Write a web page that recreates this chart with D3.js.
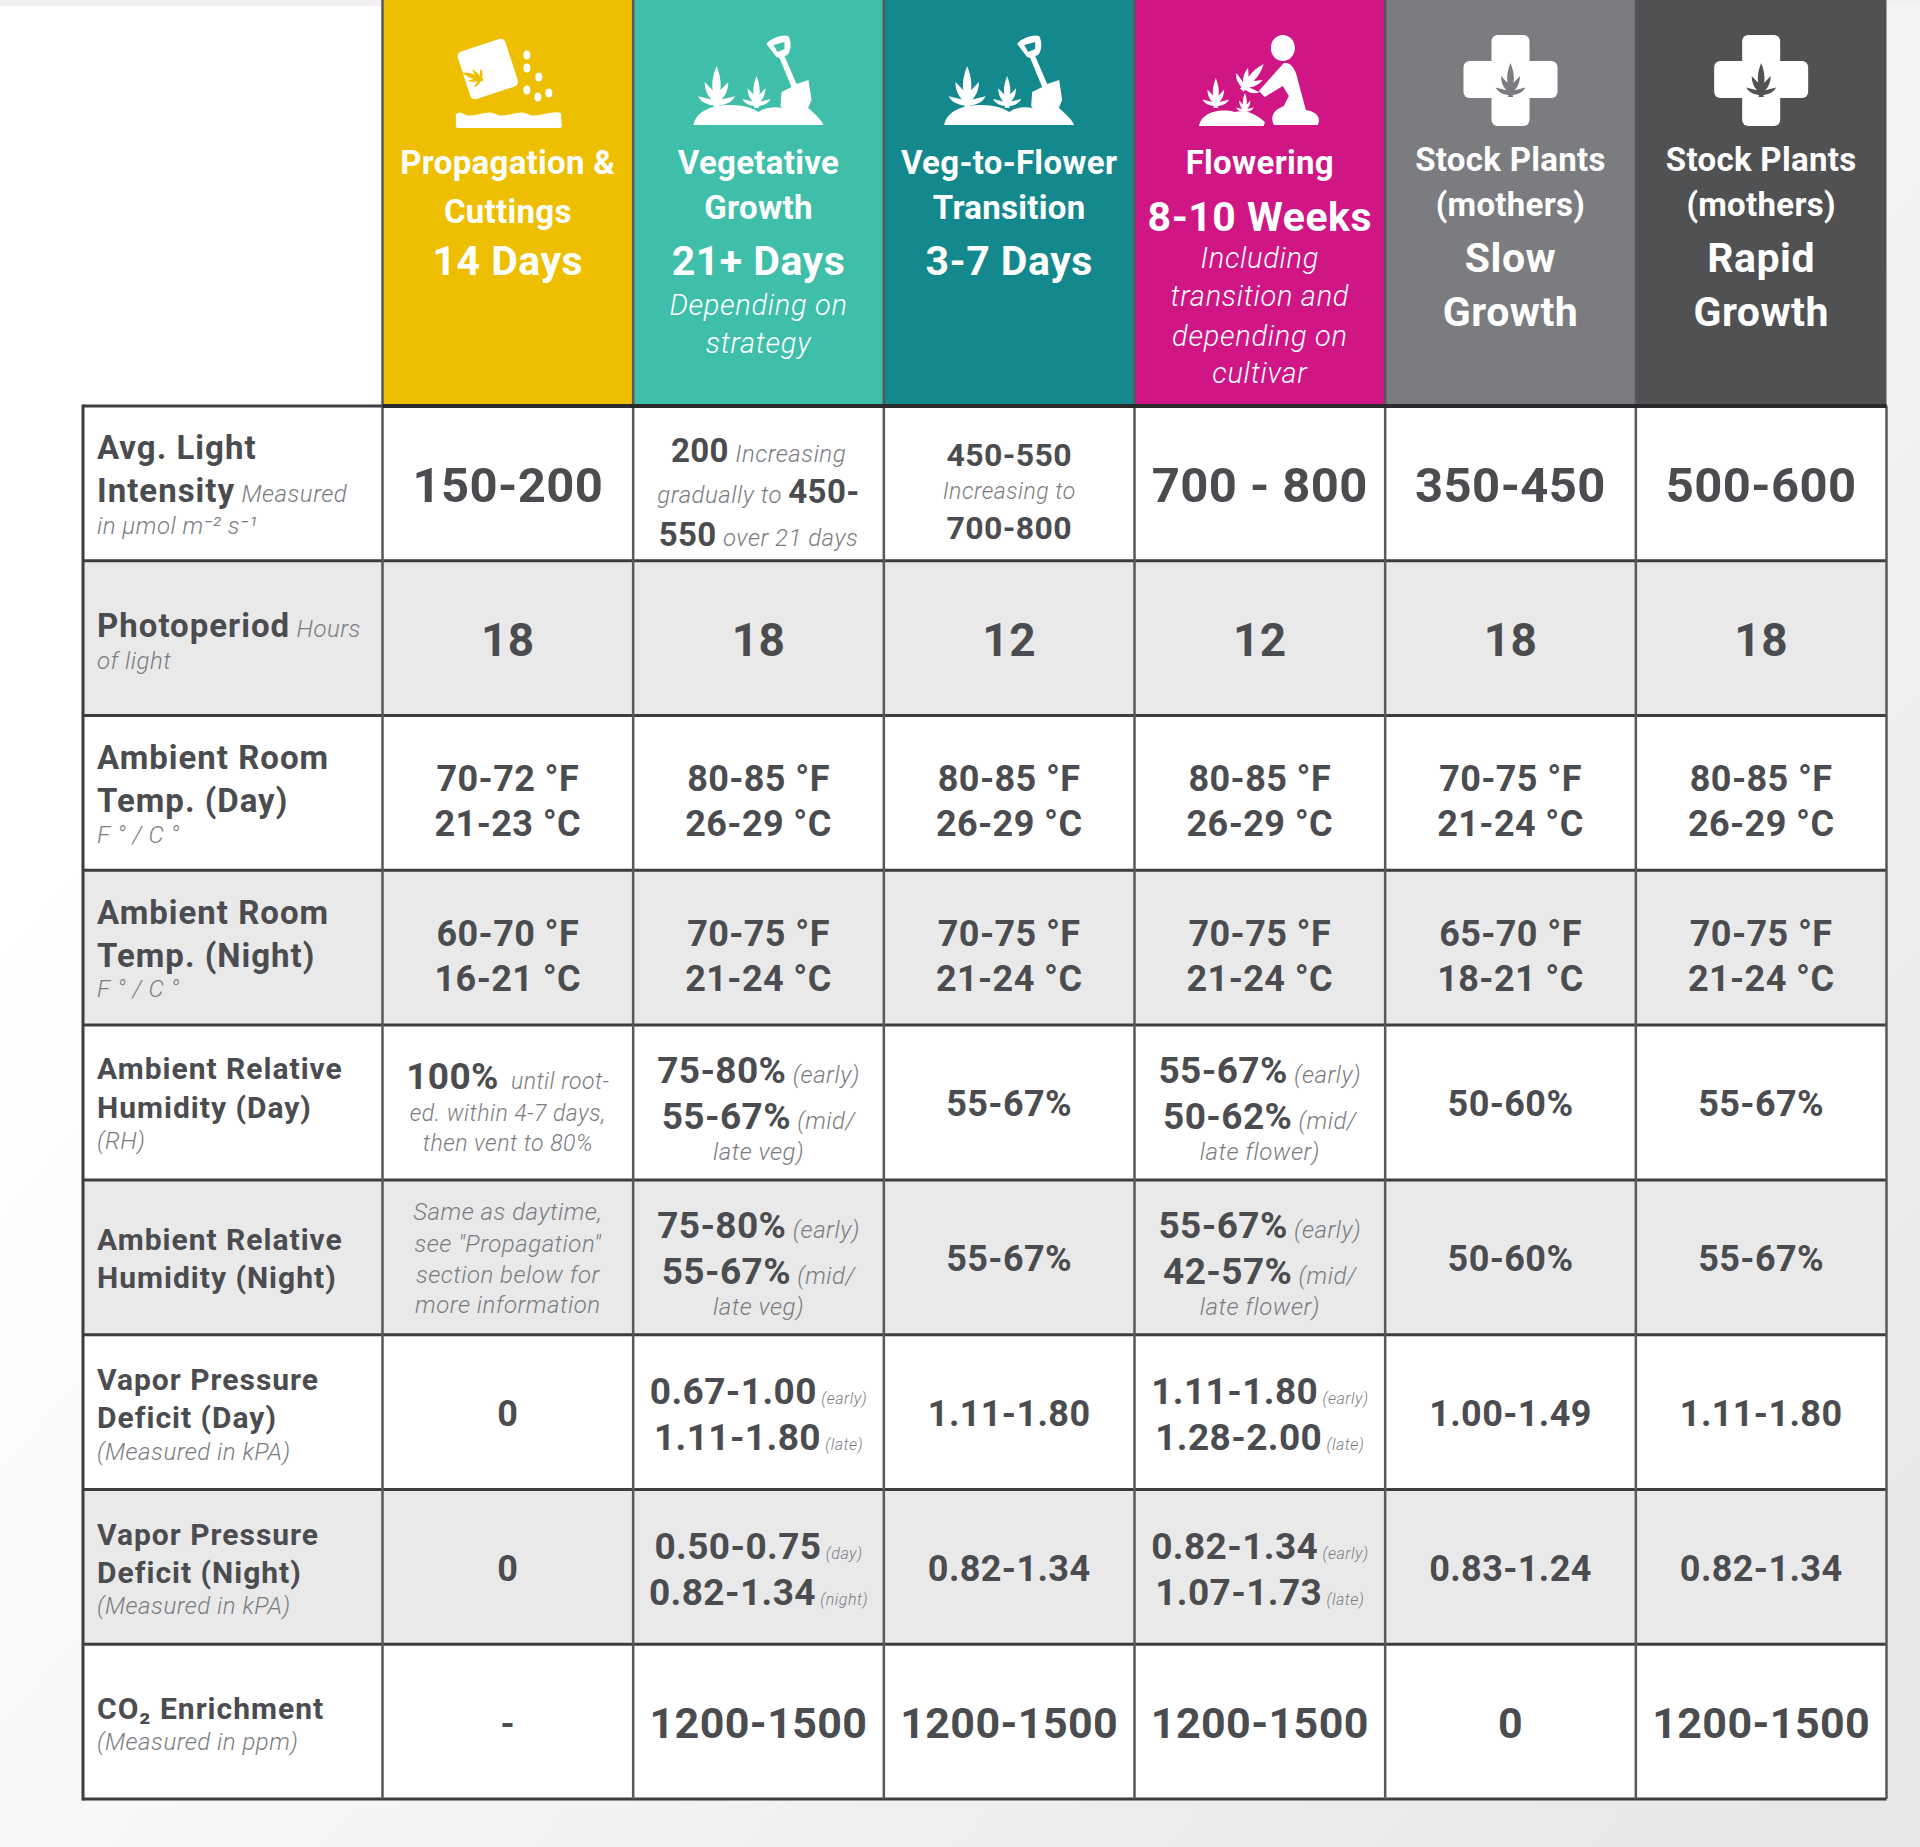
<!DOCTYPE html>
<html>
<head>
<meta charset="utf-8">
<script src="https://cdn.jsdelivr.net/npm/d3@7"></script>
<style>
  html, body { margin: 0; padding: 0; background: #f1f1f3; }
  svg { display: block; font-family: Roboto, sans-serif; }
</style>
</head>
<body>
<div class="chart"></div>
<script>
// "|" switches between bold value text and thin italic note text, starting on bold
const stages = ['Propagation', 'Vegetative', 'Transition', 'Flowering', 'StockSlow', 'StockRapid'];
const stageColors = ['#eebf00', '#3fbfa9', '#14898d', '#d01685', '#7b7c7f', '#4f5153'];

const headTitles = [
  ['Propagation &', 'Cuttings'],
  ['Vegetative', 'Growth'],
  ['Veg-to-Flower', 'Transition'],
  ['Flowering'],
  ['Stock Plants', '(mothers)'],
  ['Stock Plants', '(mothers)']
];
const headDurations = [['14 Days'], ['21+ Days'], ['3-7 Days'], ['8-10 Weeks'], ['Slow', 'Growth'], ['Rapid', 'Growth']];
const headNotes = [[], ['Depending on', 'strategy'], [], ['Including', 'transition and', 'depending on', 'cultivar'], [], []];

const rowNames = ['light', 'photo', 'tempDay', 'tempNight', 'rhDay', 'rhNight', 'vpdDay', 'vpdNight', 'co2'];
const rowLabels = [
  ['Avg. Light', 'Intensity| Measured', '|in μmol m⁻² s⁻¹'],
  ['Photoperiod| Hours', '|of light'],
  ['Ambient Room', 'Temp. (Day)', '|F ° / C °'],
  ['Ambient Room', 'Temp. (Night)', '|F ° / C °'],
  ['Ambient Relative', 'Humidity (Day)', '|(RH)'],
  ['Ambient Relative', 'Humidity (Night)'],
  ['Vapor Pressure', 'Deficit (Day)', '|(Measured in kPA)'],
  ['Vapor Pressure', 'Deficit (Night)', '|(Measured in kPA)'],
  ['CO₂ Enrichment', '|(Measured in ppm)']
];

const lightValues = [
  ['150-200'],
  ['200| Increasing', '|gradually to |450-', '550| over 21 days'],
  ['450-550', '|Increasing to', '700-800'],
  ['700 - 800'],
  ['350-450'],
  ['500-600']
];
const photoValues = [['18'], ['18'], ['12'], ['12'], ['18'], ['18']];
const tempDayValues = [
  ['70-72 °F', '21-23 °C'], ['80-85 °F', '26-29 °C'], ['80-85 °F', '26-29 °C'],
  ['80-85 °F', '26-29 °C'], ['70-75 °F', '21-24 °C'], ['80-85 °F', '26-29 °C']
];
const tempNightValues = [
  ['60-70 °F', '16-21 °C'], ['70-75 °F', '21-24 °C'], ['70-75 °F', '21-24 °C'],
  ['70-75 °F', '21-24 °C'], ['65-70 °F', '18-21 °C'], ['70-75 °F', '21-24 °C']
];
const rhDayValues = [
  ['100%|  until root-', '|ed. within 4-7 days,', '|then vent to 80%'],
  ['75-80%| (early)', '55-67%| (mid/', '|late veg)'],
  ['55-67%'],
  ['55-67%| (early)', '50-62%| (mid/', '|late flower)'],
  ['50-60%'],
  ['55-67%']
];
const rhNightValues = [
  ['|Same as daytime,', '|see "Propagation"', '|section below for', '|more information'],
  ['75-80%| (early)', '55-67%| (mid/', '|late veg)'],
  ['55-67%'],
  ['55-67%| (early)', '42-57%| (mid/', '|late flower)'],
  ['50-60%'],
  ['55-67%']
];
const vpdDayValues = [
  ['0'],
  ['0.67-1.00| (early)', '1.11-1.80| (late)'],
  ['1.11-1.80'],
  ['1.11-1.80| (early)', '1.28-2.00| (late)'],
  ['1.00-1.49'],
  ['1.11-1.80']
];
const vpdNightValues = [
  ['0'],
  ['0.50-0.75| (day)', '0.82-1.34| (night)'],
  ['0.82-1.34'],
  ['0.82-1.34| (early)', '1.07-1.73| (late)'],
  ['0.83-1.24'],
  ['0.82-1.34']
];
const co2Values = [['-'], ['1200-1500'], ['1200-1500'], ['1200-1500'], ['0'], ['1200-1500']];
const rowValues = [lightValues, photoValues, tempDayValues, tempNightValues, rhDayValues, rhNightValues, vpdDayValues, vpdNightValues, co2Values];

// text styles: strong size, note size, line offsets from the row centre
const styles = {
  big: {s: 49, n: 24, at: [0]},
  photo: {s: 46, n: 24, at: [0]},
  mixed: {s: 33, n: 24, at: [-34, 7, 50]},
  tight: {s: 32, n: 23, at: [-30, 6, 43]},
  temp: {s: 36, n: 23, at: [-16, 29]},
  rh: {s: 37, n: 24, at: [-34, 12, 48]},
  rootNote: {s: 37, n: 23, at: [-28, 9, 39]},
  noteOnly: {s: 23, n: 24, at: [-47, -15, 16, 46]},
  single: {s: 36, n: 23, at: [0]},
  vpd: {s: 37, n: 16, at: [-22, 24]},
  thousand: {s: 43, n: 23, at: [0]}
};
const rowStyles = [
  ['big', 'mixed', 'tight', 'big', 'big', 'big'],
  ['photo', 'photo', 'photo', 'photo', 'photo', 'photo'],
  ['temp', 'temp', 'temp', 'temp', 'temp', 'temp'],
  ['temp', 'temp', 'temp', 'temp', 'temp', 'temp'],
  ['rootNote', 'rh', 'single', 'rh', 'single', 'single'],
  ['noteOnly', 'rh', 'single', 'rh', 'single', 'single'],
  ['single', 'vpd', 'single', 'vpd', 'single', 'single'],
  ['single', 'vpd', 'single', 'vpd', 'single', 'single'],
  ['single', 'thousand', 'thousand', 'thousand', 'thousand', 'thousand']
];
// row label line positions around the row centre
const labelOffsets = [
  [-36, 7, 42], [-13, 22], [-36, 7, 41], [-36, 7, 41], [-34, 5, 38],
  [-18, 20], [-33, 5, 39], [-33, 5, 39], [-13, 20]
];
const labelSizes = [33, 33, 33, 33, 30, 30, 30, 30, 30];
// header line positions, one list per column
const headLineY = [
  [162, 211, 260],
  [162, 207, 260, 305, 343],
  [162, 207, 260],
  [162, 216, 258, 296, 336, 373],
  [159, 204, 257, 311],
  [159, 204, 257, 311]
];

const width = 1920, height = 1847;
const labelLeft = 83, tableRight = 1886.5, headBottom = 406, tableBottom = 1799;
const textDark = '#4b4c4f', noteGrey = '#7b7c7f', lineColor = '#3d3d40';

const svg = d3.select('.chart').append('svg')
  .attr('width', width)
  .attr('height', height)
  .attr('viewBox', `0 0 ${width} ${height}`);

const xScale = d3.scaleBand().domain(stages).range([382.5, tableRight]);
const yScale = d3.scaleBand().domain(rowNames).range([headBottom, tableBottom]);
const bw = xScale.bandwidth(), rh = yScale.bandwidth();

// background fades from white to light grey
const bg = svg.append('defs').append('linearGradient')
  .attr('id', 'bg')
  .attr('gradientUnits', 'userSpaceOnUse')
  .attr('x1', 300).attr('y1', 600).attr('x2', 1800).attr('y2', 1847);
bg.append('stop').attr('offset', 0).attr('stop-color', '#ffffff');
bg.append('stop').attr('offset', 1).attr('stop-color', '#e7e7e9');
svg.append('rect').attr('width', width).attr('height', height).attr('fill', 'url(#bg)');
svg.append('rect').attr('width', width).attr('height', 6).attr('fill', '#f2f0f2');

// header bands
svg.selectAll('.head')
  .data(stages)
  .enter()
  .append('rect')
  .attr('x', d => xScale(d))
  .attr('y', 0)
  .attr('width', bw)
  .attr('height', headBottom)
  .attr('fill', (d, i) => stageColors[i]);

// grey rows
svg.selectAll('.band')
  .data(rowNames)
  .enter()
  .append('rect')
  .attr('x', labelLeft)
  .attr('y', d => yScale(d))
  .attr('width', tableRight - labelLeft)
  .attr('height', rh)
  .attr('fill', (d, i) => i % 2 ? '#e9e9ea' : '#ffffff');

// grid
const gridY = rowNames.map(d => yScale(d)).concat([tableBottom]);
svg.selectAll('.hline')
  .data(gridY)
  .enter()
  .append('line')
  .attr('x1', labelLeft).attr('x2', tableRight)
  .attr('y1', d => d).attr('y2', d => d)
  .attr('stroke', lineColor)
  .attr('stroke-width', 3);

const gridX = stages.map(d => xScale(d)).concat([tableRight]);
svg.selectAll('.vline')
  .data(gridX)
  .enter()
  .append('line')
  .attr('x1', d => d).attr('x2', d => d)
  .attr('y1', (d, i) => i == 6 ? headBottom : 0)
  .attr('y2', tableBottom)
  .attr('stroke', '#58585b')
  .attr('stroke-width', 2.5);

svg.append('line')
  .attr('x1', labelLeft).attr('x2', labelLeft)
  .attr('y1', headBottom - 1.5).attr('y2', tableBottom + 1.5)
  .attr('stroke', lineColor)
  .attr('stroke-width', 3);

// darker line under the coloured header
svg.append('line')
  .attr('x1', xScale('Propagation')).attr('x2', tableRight)
  .attr('y1', headBottom).attr('y2', headBottom)
  .attr('stroke', '#2a2a2c')
  .attr('stroke-width', 4);

// writes one "strong|note|strong" line into a text element
function addSpans(text, line, st, strongColor, noteColor) {
  line.split('|').forEach((part, k) => {
    if (!part) return;
    const strong = k % 2 == 0;
    text.append('tspan')
      .text(part)
      .attr('xml:space', 'preserve')
      .attr('font-size', strong ? st.s : st.n)
      .attr('font-weight', strong ? 700 : 300)
      .attr('font-style', strong ? 'normal' : 'italic')
      .attr('letter-spacing', strong ? st.ls || 0.4 : 0.5)
      .attr('fill', strong ? strongColor : noteColor);
  });
}

// body cells
rowNames.forEach((row, r) => {
  const cy = yScale(row) + rh / 2;
  stages.forEach((stage, c) => {
    const st = styles[rowStyles[r][c]];
    const lines = rowValues[r][c];
    lines.forEach((line, i) => {
      const size = line[0] == '|' && !line.includes('|', 1) ? st.n : st.s;
      const text = svg.append('text')
        .attr('x', xScale(stage) + bw / 2)
        .attr('y', cy + st.at[i] + size * 0.36 + 1)
        .attr('text-anchor', 'middle');
      addSpans(text, line, st, textDark, noteGrey);
    });
  });

  // row label
  const ls = {s: labelSizes[r], n: 24, ls: 1};
  rowLabels[r].forEach((line, i) => {
    const size = line[0] == '|' ? ls.n : ls.s;
    const text = svg.append('text')
      .attr('x', 97)
      .attr('y', cy + labelOffsets[r][i] + size * 0.36);
    addSpans(text, line, ls, textDark, noteGrey);
  });
});

// header text
stages.forEach((stage, c) => {
  const cx = xScale(stage) + bw / 2;
  const parts = [
    ...headTitles[c].map(t => ({t, size: 33, weight: 700, style: 'normal', ls: 0.3})),
    ...headDurations[c].map(t => ({t, size: 41, weight: 700, style: 'normal', ls: 0.5})),
    ...headNotes[c].map(t => ({t, size: 29, weight: 300, style: 'italic', ls: 0.7}))
  ];
  parts.forEach((p, i) => {
    svg.append('text')
      .attr('x', cx)
      .attr('y', headLineY[c][i] + p.size * 0.36)
      .attr('text-anchor', 'middle')
      .attr('font-size', p.size)
      .attr('font-weight', p.weight)
      .attr('font-style', p.style)
      .attr('letter-spacing', p.ls)
      .attr('fill', '#ffffff')
      .text(p.t);
  });
});

// icons
const leaf = 'M0 -100 C8 -80 12 -60 9 -42 L28 -62 C28 -45 22 -30 12 -20 L44 -28 C36 -12 20 -8 6 -6 L8 0 L-8 0 L-6 -6 C-20 -8 -36 -12 -44 -28 L-12 -20 C-22 -30 -28 -45 -28 -62 L-9 -42 C-12 -60 -8 -80 0 -100 Z';

function drawLeaf(g, x, y, scale, fill, rotate) {
  g.append('path')
    .attr('d', leaf)
    .attr('fill', fill)
    .attr('transform', `translate(${x},${y}) rotate(${rotate || 0}) scale(${scale})`);
}

function iconGroup(stage) {
  return svg.append('g').attr('transform', `translate(${xScale(stage) + bw / 2},0)`);
}

function moundAndShovel(g) {
  drawLeaf(g, -42, 108, 0.42, '#fff');
  drawLeaf(g, -2, 108, 0.32, '#fff');
  g.append('path').attr('fill', '#fff')
    .attr('d', 'M-65 125 C-62 110 -45 105 -28 105 C-15 105 -6 108 0 112 C8 106 22 106 30 110 L50 108 C56 114 62 118 65 125 Z');
  // shovel
  g.append('path').attr('fill', '#fff')
    .attr('fill-rule', 'evenodd')
    .attr('d', 'M8 44 C12 38 24 34 30 36 C33 42 33 50 29 55 L26 56 L38 84 L50 80 L53 100 L47 114 L30 116 L22 106 L23 92 L33 87 L21 58 L18 57 Z M15 45 L19 52 L26 49 L26 42 Z');
}

// seed bag
const bagIcon = iconGroup('Propagation');
bagIcon.append('rect')
  .attr('x', -45).attr('y', 44).attr('width', 50).attr('height', 50).attr('rx', 5)
  .attr('fill', '#fff')
  .attr('transform', 'rotate(-18 -20 69)');
drawLeaf(bagIcon, -25, 80, 0.22, '#eebf00', -70);
bagIcon.append('path')
  .attr('fill', '#fff')
  .attr('d', 'M-52 114 Q-48 111 -44 114 T-28 114 T-12 114 T4 114 T20 114 T36 114 T53 113 L54 126 Q54 128 51 128 L-50 128 Q-52 128 -52 126 Z');
[[19, 55], [19, 68], [31, 77], [19, 90], [41, 93], [30, 97]].forEach(p => {
  bagIcon.append('ellipse')
    .attr('cx', p[0]).attr('cy', p[1]).attr('rx', 3.5).attr('ry', 4.5)
    .attr('fill', '#fff');
});

moundAndShovel(iconGroup('Vegetative'));
moundAndShovel(iconGroup('Transition'));

// person tending plants
const personIcon = iconGroup('Flowering');
personIcon.append('ellipse')
  .attr('cx', 23).attr('cy', 48).attr('rx', 12).attr('ry', 13)
  .attr('fill', '#fff');
personIcon.append('path').attr('fill', '#fff')
  .attr('d', 'M24 63 C32 62 36 70 38 80 L46 110 C58 112 61 118 58 125 L14 125 C10 116 14 110 24 106 L29 96 L23 86 L5 97 L-1 91 Z');
drawLeaf(personIcon, -18, 90, 0.34, '#fff', 40);
drawLeaf(personIcon, -44, 108, 0.3, '#fff');
drawLeaf(personIcon, -15, 113, 0.2, '#fff');
personIcon.append('path').attr('fill', '#fff')
  .attr('d', 'M-61 126 C-58 112 -40 108 -25 112 C-16 110 -6 112 5 122 L4 126 Z');

// medical cross with leaf
[['StockSlow', '#7b7c7f'], ['StockRapid', '#4f5153']].forEach(d => {
  const g = iconGroup(d[0]);
  g.append('rect').attr('x', -47).attr('y', 61).attr('width', 94).attr('height', 37).attr('rx', 6).attr('fill', '#fff');
  g.append('rect').attr('x', -19).attr('y', 35).attr('width', 38).attr('height', 91).attr('rx', 6).attr('fill', '#fff');
  drawLeaf(g, 0, 97, 0.34, d[1]);
});
</script>
</body>
</html>
